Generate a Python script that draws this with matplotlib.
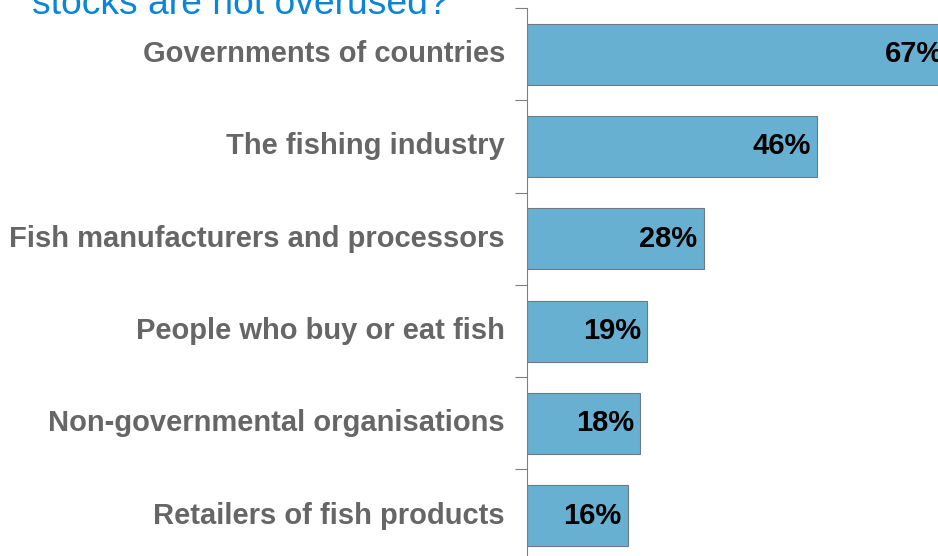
import matplotlib
matplotlib.use("Agg")
import matplotlib.pyplot as plt
import numpy as np

categories = [
    "Governments of countries",
    "The fishing industry",
    "Fish manufacturers and processors",
    "People who buy or eat fish",
    "Non-governmental organisations",
    "Retailers of fish products",
]
values = [67, 46, 28, 19, 18, 16]
title_text = "stocks are not overused?"

plt.rcParams["font.family"] = ["Liberation Sans", "DejaVu Sans"]

W, H = 938, 556
fig = plt.figure(figsize=(W / 100, H / 100), dpi=100)

# axes spans from the first tick down past the bottom edge of the canvas
n = len(categories)
top_px = 8
slot_px = 92.3
bottom_px = top_px + n * slot_px
left_px = 527
ax = fig.add_axes([left_px / W, 1 - bottom_px / H, (W - left_px) / W, (bottom_px - top_px) / H])

y = np.arange(n)
ax.barh(y, values, height=0.66, color="#67b0d2", edgecolor="#6f7a80", linewidth=0.8)
ax.set_ylim(n - 0.5, -0.5)
ax.set_xlim(0, 65.2)

for yi, v in zip(y, values):
    ax.text(v - 0.95, yi, f"{v}%", ha="right", va="center", fontsize=21,
            fontweight="bold", color="black", clip_on=False)

ax.set_yticks(np.arange(n + 1) - 0.5)
ax.set_yticklabels([])
ax.tick_params(axis="y", direction="out", length=9, width=0.8, color="#7f7f7f")
ax.set_xticks([])
for s in ["top", "right", "bottom"]:
    ax.spines[s].set_visible(False)
ax.spines["left"].set_color("#7f7f7f")
ax.spines["left"].set_linewidth(0.8)

for yi, c in zip(y, categories):
    ax.text(-3.5, yi, c, ha="right", va="center", fontsize=21,
            fontweight="bold", color="#666666", clip_on=False)

fig.text(32 / W, 1 - 14 / H, title_text, ha="left", va="baseline",
         fontsize=26.8, color="#0a85d8")

fig.savefig("out.png", dpi=100)
